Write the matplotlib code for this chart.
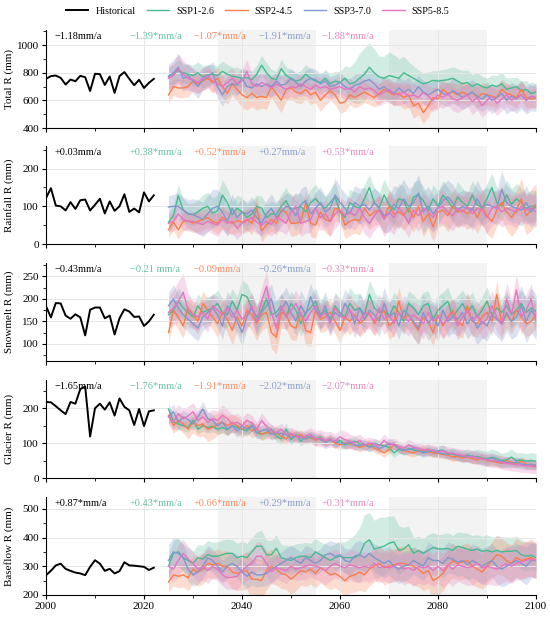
import numpy as np
import matplotlib
matplotlib.use('Agg')
import matplotlib.pyplot as plt
from matplotlib.ticker import MultipleLocator

plt.rcParams['font.family'] = ['Liberation Serif', 'DejaVu Serif']

# годы
hist_years = list(range(2000, 2023))
fut_years = list(range(2025, 2101))

scenarios = ['SSP1-2.6', 'SSP2-4.5', 'SSP3-7.0', 'SSP5-8.5']
line_colors = ['#45bc8f', '#fb7d48', '#8097cf', '#e474c2']
band_colors = ['#66c2a5', '#fc8d62', '#8da0cb', '#e78ac3']

# ---------- Total R ----------
total_hist = [756, 776, 780, 763, 715, 751, 739, 778, 768, 668, 793, 790, 712, 773, 654, 776, 805, 756, 710, 749, 690, 727, 756]
total_ssp1 = [775, 790, 815, 800, 790, 780, 800, 770, 785, 790,
              780, 810, 790, 775, 770, 760, 765, 750, 790, 855,
              800, 760, 750, 830, 780, 760, 740, 750, 790, 760,
              740, 730, 760, 720, 740, 730, 760, 720, 730, 760,
              790, 840, 800, 770, 760, 780, 770, 760, 800, 780,
              760, 740, 720, 730, 745, 740, 745, 750, 760, 740,
              720, 730, 700, 720, 700, 690, 710, 700, 720, 680,
              690, 700, 670, 680, 650, 660]
total_ssp2 = [640, 700, 690, 690, 700, 740, 720, 740, 760, 730,
              760, 700, 650, 720, 680, 640, 620, 650, 620, 630,
              620, 700, 650, 600, 680, 690, 660, 650, 680, 640,
              660, 600, 640, 670, 640, 580, 590, 640, 620, 640,
              660, 640, 620, 650, 680, 660, 640, 650, 620, 640,
              560, 580, 510, 560, 620, 610, 680, 650, 660, 640,
              660, 640, 660, 620, 650, 640, 630, 620, 680, 650,
              640, 620, 680, 620, 610, 620]
total_ssp3 = [770, 800, 840, 760, 780, 740, 700, 750, 770, 800,
              700, 640, 700, 720, 710, 760, 700, 690, 720, 700,
              720, 700, 740, 710, 720, 760, 730, 700, 740, 760,
              750, 720, 740, 700, 710, 730, 700, 680, 710, 720,
              740, 750, 720, 680, 700, 670, 650, 690, 660, 680,
              650, 700, 660, 640, 660, 680, 650, 640, 670, 650,
              620, 640, 660, 630, 610, 640, 600, 620, 650, 600,
              630, 610, 640, 600, 630, 620]
total_ssp5 = [760, 780, 830, 790, 760, 750, 730, 760, 780, 740,
              720, 700, 730, 760, 720, 740, 810, 720, 700, 730,
              710, 690, 720, 700, 680, 700, 690, 720, 700, 680,
              710, 690, 700, 680, 690, 700, 680, 690, 660, 700,
              680, 690, 670, 640, 660, 680, 650, 640, 660, 630,
              640, 620, 660, 630, 600, 640, 620, 650, 610, 600,
              620, 640, 590, 620, 560, 600, 630, 580, 610, 640,
              600, 620, 640, 600, 630, 620]
total_spread_ssp1 = [60, 70, 80, 70, 70, 75, 80, 80, 75, 70,
                     70, 75, 70, 65, 70, 65, 60, 60, 65, 70,
                     70, 65, 60, 70, 65, 60, 60, 65, 70, 65,
                     60, 60, 65, 70, 70, 80, 90, 120, 150, 180,
                     190, 180, 170, 150, 160, 170, 160, 140, 120, 100,
                     90, 80, 80, 75, 70, 75, 80, 80, 85, 90,
                     95, 90, 85, 80, 75, 70, 75, 80, 85, 80,
                     75, 70, 70, 65, 60, 60]
total_spread_ssp2 = [60, 65, 70, 70, 75, 70, 70, 65, 70, 75,
                     80, 75, 80, 85, 85, 90, 90, 95, 90, 85,
                     85, 80, 85, 90, 85, 80, 75, 75, 70, 70,
                     75, 80, 75, 70, 70, 75, 70, 70, 75, 80,
                     75, 70, 70, 75, 80, 75, 80, 80, 85, 90,
                     90, 85, 80, 80, 75, 80, 70, 75, 70, 75,
                     80, 75, 70, 75, 80, 75, 70, 75, 70, 75,
                     70, 75, 70, 70, 65, 70]
total_spread_ssp3 = [90, 95, 100, 95, 90, 85, 85, 80, 80, 80,
                     85, 80, 80, 75, 75, 80, 80, 75, 75, 80,
                     80, 75, 70, 70, 75, 70, 70, 75, 80, 80,
                     75, 75, 70, 70, 75, 75, 70, 75, 80, 80,
                     75, 70, 75, 80, 80, 85, 80, 80, 85, 85,
                     80, 80, 85, 85, 80, 80, 85, 85, 90, 90,
                     85, 85, 90, 90, 90, 95, 95, 90, 95, 100,
                     100, 105, 100, 100, 105, 100]
total_spread_ssp5 = [85, 95, 110, 100, 90, 85, 80, 80, 75, 75,
                     75, 80, 80, 75, 75, 80, 85, 80, 75, 75,
                     70, 70, 75, 75, 70, 70, 75, 75, 70, 70,
                     70, 75, 75, 70, 70, 75, 75, 70, 75, 75,
                     70, 75, 75, 80, 80, 80, 85, 80, 80, 85,
                     85, 80, 80, 85, 85, 80, 80, 85, 85, 90,
                     85, 85, 90, 90, 85, 85, 90, 90, 85, 85,
                     80, 85, 85, 80, 80, 80]

# ---------- Rainfall R ----------
rain_hist = [122, 148, 102, 100, 89, 111, 93, 116, 118, 89, 104, 120, 81, 113, 88, 100, 132, 85, 94, 84, 137, 113, 129]
rain_ssp1 = [58, 75, 128, 90, 80, 78, 85, 95, 100, 82,
             88, 130, 110, 78, 95, 85, 70, 80, 100, 95,
             70, 80, 78, 100, 115, 90, 95, 100, 85, 110,
             120, 105, 95, 110, 125, 85, 70, 110, 100, 95,
             120, 150, 110, 95, 130, 105, 90, 120, 115, 85,
             125, 130, 115, 90, 120, 100, 130, 115, 95, 125,
             110, 100, 130, 105, 95, 120, 150, 110, 100, 130,
             105, 120, 110, 95, 100, 102]
rain_ssp2 = [38, 58, 38, 60, 62, 55, 60, 65, 70, 60,
             55, 72, 60, 55, 62, 58, 65, 55, 95, 35,
             50, 65, 55, 90, 85, 55, 55, 60, 110, 55,
             50, 85, 65, 60, 95, 90, 50, 60, 65, 62,
             95, 75, 85, 90, 70, 100, 80, 85, 75, 95,
             70, 100, 60, 80, 45, 85, 90, 75, 100, 85,
             90, 80, 95, 70, 100, 75, 60, 90, 110, 85,
             70, 90, 120, 75, 90, 105]
rain_ssp3 = [98, 100, 100, 90, 80, 78, 72, 65, 80, 95,
             100, 85, 60, 95, 70, 85, 80, 90, 70, 55,
             80, 95, 70, 85, 100, 95, 75, 105, 115, 80,
             95, 110, 85, 95, 130, 110, 95, 80, 110, 100,
             105, 90, 110, 95, 75, 80, 105, 95, 120, 100,
             110, 135, 85, 100, 80, 95, 115, 125, 110, 90,
             100, 95, 90, 120, 95, 105, 100, 95, 145, 110,
             100, 95, 90, 110, 85, 100]
rain_ssp5 = [55, 60, 80, 65, 60, 60, 55, 52, 60, 55,
             50, 65, 55, 60, 42, 55, 62, 70, 58, 50,
             60, 52, 70, 65, 55, 85, 100, 55, 60, 65,
             95, 70, 80, 60, 80, 90, 75, 85, 75, 95,
             70, 55, 75, 90, 65, 85, 70, 95, 80, 55,
             90, 75, 95, 85, 70, 95, 100, 85, 75, 95,
             85, 100, 80, 95, 90, 70, 95, 100, 85, 95,
             90, 85, 100, 90, 95, 85]
rain_spread_ssp1 = [25, 28, 30, 30, 28, 30, 32, 35, 38, 40,
                    42, 40, 38, 35, 35, 38, 35, 32, 30, 32,
                    35, 32, 30, 32, 35, 35, 38, 35, 32, 35,
                    38, 35, 32, 35, 38, 35, 32, 35, 38, 40,
                    38, 35, 38, 40, 42, 40, 38, 40, 38, 35,
                    38, 40, 38, 35, 38, 40, 38, 35, 38, 40,
                    38, 35, 38, 40, 42, 40, 38, 40, 38, 40,
                    42, 40, 38, 40, 42, 40]
rain_spread_ssp2 = [20, 22, 25, 25, 22, 25, 28, 28, 25, 25,
                    28, 30, 28, 30, 32, 30, 28, 30, 32, 30,
                    28, 30, 32, 30, 32, 35, 32, 30, 32, 35,
                    35, 32, 35, 38, 35, 32, 35, 38, 35, 38,
                    40, 38, 35, 38, 40, 42, 40, 38, 40, 42,
                    40, 42, 40, 38, 40, 42, 40, 42, 45, 42,
                    40, 42, 45, 42, 45, 48, 45, 42, 45, 48,
                    50, 52, 55, 50, 55, 55]
rain_spread_ssp3 = [30, 32, 35, 35, 38, 42, 45, 45, 48, 50,
                    45, 42, 40, 38, 35, 35, 32, 35, 38, 35,
                    35, 38, 40, 38, 35, 38, 40, 42, 40, 38,
                    40, 42, 40, 42, 45, 42, 40, 42, 45, 48,
                    45, 42, 40, 42, 45, 48, 50, 55, 52, 48,
                    45, 50, 55, 52, 48, 45, 42, 45, 48, 45,
                    42, 45, 48, 50, 48, 45, 42, 45, 50, 45,
                    42, 40, 42, 45, 42, 40]
rain_spread_ssp5 = [22, 25, 28, 28, 25, 25, 28, 28, 25, 28,
                    30, 28, 30, 32, 30, 28, 30, 32, 30, 28,
                    30, 32, 35, 32, 30, 35, 38, 35, 32, 35,
                    38, 35, 38, 40, 38, 35, 38, 40, 38, 40,
                    42, 40, 38, 42, 45, 48, 45, 42, 40, 38,
                    40, 42, 40, 38, 40, 42, 45, 42, 40, 42,
                    40, 42, 45, 42, 40, 42, 45, 42, 40, 42,
                    40, 42, 40, 38, 40, 40]

# ---------- Snowmelt R ----------
snow_hist = [184, 159, 191, 190, 163, 156, 166, 159, 119, 176, 181, 181, 157, 163, 121, 157, 177, 172, 160, 161, 140, 150, 165]
snow_ssp1 = [165, 175, 195, 180, 170, 160, 185, 170, 175, 180,
             190, 170, 165, 195, 175, 210, 205, 180, 160, 175,
             200, 165, 170, 185, 160, 190, 175, 145, 170, 180,
             195, 165, 175, 155, 185, 170, 160, 190, 175, 180,
             165, 210, 180, 170, 175, 160, 185, 170, 150, 190,
             180, 165, 185, 190, 155, 175, 185, 195, 160, 175,
             190, 170, 185, 160, 175, 195, 165, 180, 170, 185,
             165, 175, 190, 170, 180, 172]
snow_ssp2 = [125, 175, 160, 140, 180, 165, 150, 190, 175, 160,
             145, 170, 155, 130, 160, 140, 175, 165, 145, 165,
             170, 125, 115, 170, 165, 140, 135, 170, 130, 125,
             175, 155, 160, 170, 150, 130, 160, 150, 165, 145,
             155, 170, 145, 160, 175, 140, 150, 195, 155, 165,
             145, 130, 160, 150, 125, 165, 140, 160, 175, 150,
             140, 185, 150, 145, 160, 170, 150, 210, 145, 165,
             150, 175, 160, 145, 150, 165]
snow_ssp3 = [185, 200, 180, 165, 155, 145, 135, 160, 170, 180,
             165, 140, 185, 170, 150, 125, 160, 180, 150, 170,
             185, 200, 160, 175, 195, 170, 150, 185, 165, 205,
             175, 160, 185, 150, 170, 160, 190, 175, 145, 180,
             155, 175, 165, 150, 190, 160, 170, 140, 175, 165,
             150, 135, 170, 145, 160, 140, 175, 150, 160, 155,
             170, 145, 160, 135, 150, 140, 165, 155, 145, 170,
             150, 160, 185, 150, 175, 160]
snow_ssp5 = [170, 180, 195, 215, 175, 165, 160, 170, 155, 185,
             175, 165, 180, 160, 175, 155, 165, 185, 150, 195,
             228, 170, 135, 185, 160, 175, 190, 165, 150, 170,
             185, 160, 170, 145, 180, 165, 155, 175, 160, 150,
             170, 165, 150, 180, 155, 165, 145, 170, 160, 150,
             165, 155, 145, 170, 150, 160, 145, 155, 170, 140,
             160, 175, 150, 165, 145, 155, 185, 160, 145, 200,
             165, 220, 160, 175, 200, 150]
snow_spread_ssp1 = [25, 28, 30, 28, 26, 25, 26, 28, 30, 28,
                    30, 32, 30, 28, 30, 32, 30, 28, 30, 28,
                    30, 28, 26, 28, 30, 28, 26, 28, 30, 28,
                    30, 32, 30, 28, 30, 32, 34, 36, 35, 32,
                    30, 32, 35, 32, 30, 28, 30, 32, 30, 28,
                    30, 32, 30, 28, 30, 32, 30, 32, 35, 32,
                    30, 32, 30, 28, 30, 32, 30, 28, 30, 32,
                    30, 28, 30, 32, 30, 30]
snow_spread_ssp2 = [22, 25, 28, 28, 26, 28, 30, 28, 26, 28,
                    30, 28, 30, 32, 30, 28, 32, 35, 38, 35,
                    32, 35, 38, 35, 32, 30, 28, 30, 32, 30,
                    28, 30, 32, 30, 28, 30, 28, 30, 32, 30,
                    28, 30, 28, 26, 28, 30, 32, 30, 28, 30,
                    32, 30, 28, 30, 32, 30, 28, 30, 28, 30,
                    28, 30, 32, 30, 28, 30, 32, 30, 28, 30,
                    28, 30, 32, 30, 28, 28]
snow_spread_ssp3 = [30, 32, 30, 28, 28, 30, 28, 30, 32, 30,
                    28, 30, 32, 30, 28, 30, 28, 30, 32, 30,
                    32, 34, 36, 34, 32, 30, 32, 34, 32, 30,
                    28, 30, 32, 30, 28, 30, 32, 30, 32, 34,
                    32, 30, 32, 34, 36, 34, 32, 30, 32, 34,
                    36, 38, 40, 38, 36, 34, 32, 34, 36, 38,
                    36, 34, 36, 38, 36, 34, 36, 38, 40, 42,
                    40, 42, 45, 48, 50, 50]
snow_spread_ssp5 = [35, 40, 45, 42, 38, 32, 30, 28, 30, 28,
                    30, 28, 26, 28, 30, 28, 30, 32, 30, 32,
                    35, 32, 30, 28, 30, 28, 30, 32, 30, 28,
                    30, 28, 26, 28, 30, 32, 34, 36, 34, 32,
                    34, 32, 30, 32, 34, 32, 30, 32, 34, 32,
                    30, 32, 34, 32, 30, 32, 34, 32, 30, 32,
                    34, 36, 34, 32, 34, 36, 34, 32, 34, 36,
                    34, 36, 38, 36, 34, 34]

# ---------- Glacier R ----------
glac_hist = [218, 217, 206, 194, 183, 218, 213, 255, 262, 119, 200, 213, 196, 217, 179, 228, 204, 194, 152, 198, 149, 191, 194]
glac_ssp1 = [198, 160, 155, 150, 145, 165, 140, 150, 145, 148,
             140, 145, 138, 150, 145, 140, 135, 150, 130, 126,
             130, 140, 120, 112, 140, 110, 125, 105, 120, 115,
             110, 118, 105, 112, 100, 108, 95, 100, 105, 98,
             95, 90, 100, 95, 92, 88, 72, 82, 78, 85,
             80, 78, 75, 82, 72, 78, 80, 70, 68, 65,
             62, 66, 60, 62, 58, 55, 60, 56, 50, 52,
             60, 50, 52, 48, 50, 48]
glac_ssp2 = [180, 150, 165, 155, 140, 160, 150, 155, 140, 145,
             155, 160, 150, 158, 150, 140, 150, 135, 140, 125,
             130, 128, 130, 120, 112, 125, 118, 125, 112, 118,
             108, 112, 105, 110, 100, 95, 100, 98, 95, 88,
             92, 98, 85, 80, 72, 82, 95, 85, 80, 75,
             72, 78, 82, 75, 72, 70, 68, 65, 60, 62,
             58, 60, 55, 52, 58, 50, 48, 45, 42, 50,
             45, 42, 48, 40, 35, 38]
glac_ssp3 = [175, 190, 160, 175, 168, 155, 175, 198, 170, 165,
             150, 160, 140, 150, 135, 148, 140, 150, 130, 135,
             140, 125, 130, 128, 125, 115, 120, 118, 112, 120,
             115, 110, 102, 108, 105, 100, 98, 102, 95, 92,
             98, 88, 92, 85, 90, 100, 95, 85, 80, 82,
             85, 78, 72, 75, 80, 72, 70, 68, 72, 65,
             62, 60, 64, 58, 55, 52, 58, 50, 48, 45,
             42, 46, 40, 38, 40, 35]
glac_ssp5 = [175, 160, 185, 170, 178, 190, 165, 175, 160, 170,
             165, 180, 170, 155, 160, 150, 165, 158, 140, 165,
             148, 135, 130, 140, 125, 128, 120, 115, 120, 125,
             112, 115, 108, 112, 105, 118, 110, 105, 100, 108,
             95, 100, 98, 92, 108, 95, 98, 90, 85, 95,
             88, 85, 80, 82, 78, 75, 78, 72, 70, 68,
             65, 62, 60, 58, 55, 52, 50, 48, 45, 42,
             40, 38, 36, 35, 34, 32]
glac_spread_ssp1 = [18, 18, 16, 15, 15, 16, 15, 15, 16, 15,
                    15, 16, 15, 14, 15, 16, 15, 14, 15, 16,
                    15, 14, 15, 16, 18, 16, 15, 14, 15, 16,
                    15, 14, 13, 14, 15, 14, 13, 14, 15, 14,
                    13, 14, 13, 12, 13, 14, 13, 12, 13, 14,
                    13, 12, 13, 14, 13, 14, 15, 14, 15, 16,
                    17, 18, 19, 20, 21, 22, 23, 22, 21, 22,
                    23, 22, 21, 22, 23, 22]
glac_spread_ssp2 = [22, 22, 24, 26, 28, 30, 32, 34, 35, 34,
                    32, 30, 28, 26, 25, 24, 22, 20, 18, 18,
                    17, 16, 16, 15, 15, 16, 15, 14, 15, 14,
                    14, 13, 14, 13, 14, 13, 14, 13, 12, 13,
                    12, 13, 12, 12, 13, 12, 12, 11, 12, 11,
                    12, 11, 12, 11, 12, 11, 12, 12, 13, 12,
                    13, 12, 13, 12, 13, 14, 13, 12, 13, 12,
                    13, 12, 13, 12, 13, 12]
glac_spread_ssp3 = [20, 22, 22, 20, 18, 18, 20, 22, 20, 18,
                    18, 20, 18, 17, 18, 17, 16, 17, 18, 17,
                    16, 17, 16, 15, 16, 15, 14, 15, 14, 15,
                    14, 13, 14, 13, 14, 13, 14, 13, 14, 13,
                    14, 13, 12, 13, 12, 13, 12, 13, 12, 13,
                    12, 13, 12, 13, 12, 13, 12, 13, 14, 13,
                    14, 13, 14, 15, 14, 15, 14, 15, 14, 15,
                    14, 15, 14, 15, 14, 14]
glac_spread_ssp5 = [22, 24, 26, 28, 28, 26, 28, 30, 28, 26,
                    28, 30, 28, 26, 25, 24, 22, 22, 20, 22,
                    20, 18, 18, 17, 18, 17, 18, 17, 18, 20,
                    22, 24, 24, 22, 20, 22, 24, 22, 20, 18,
                    18, 17, 16, 17, 18, 17, 16, 15, 16, 15,
                    16, 15, 16, 15, 16, 15, 16, 17, 18, 17,
                    18, 17, 18, 19, 18, 19, 20, 19, 20, 19,
                    20, 19, 20, 19, 20, 19]

# ---------- Baseflow R ----------
base_hist = [269, 284, 303, 309, 291, 284, 278, 275, 269, 298, 321, 309, 284, 291, 275, 283, 314, 303, 302, 300, 298, 287, 295]
base_ssp1 = [300, 345, 350, 330, 320, 310, 330, 325, 340, 335,
             335, 340, 345, 345, 330, 335, 330, 350, 370, 370,
             340, 340, 362, 330, 325, 320, 330, 335, 335, 330,
             350, 340, 330, 320, 330, 335, 330, 330, 330, 340,
             380, 392, 360, 365, 370, 380, 385, 355, 360, 375,
             345, 355, 345, 355, 365, 360, 360, 362, 355, 370,
             365, 360, 355, 360, 352, 355, 350, 355, 350, 352,
             352, 355, 340, 335, 338, 330]
base_ssp2 = [245, 270, 265, 270, 260, 290, 280, 290, 310, 305,
             310, 300, 300, 280, 275, 280, 285, 255, 255, 250,
             285, 300, 290, 275, 270, 255, 270, 285, 280, 290,
             275, 295, 285, 270, 275, 265, 250, 265, 270, 280,
             270, 290, 300, 310, 295, 300, 305, 310, 310, 305,
             300, 290, 275, 285, 250, 260, 275, 300, 320, 310,
             315, 320, 300, 290, 280, 300, 320, 340, 335, 320,
             310, 330, 320, 325, 330, 320]
base_ssp3 = [320, 350, 345, 330, 290, 270, 280, 300, 330, 320,
             300, 280, 300, 310, 300, 280, 265, 280, 270, 270,
             275, 290, 300, 310, 320, 330, 320, 310, 330, 320,
             310, 320, 340, 345, 335, 340, 320, 315, 335, 340,
             330, 345, 330, 320, 310, 320, 300, 290, 300, 305,
             320, 310, 300, 330, 320, 320, 310, 330, 325, 315,
             320, 305, 320, 310, 300, 310, 320, 300, 290, 300,
             310, 320, 310, 300, 320, 320]
base_ssp5 = [300, 290, 320, 345, 325, 310, 290, 300, 285, 300,
             290, 270, 260, 262, 265, 285, 300, 310, 335, 335,
             310, 280, 295, 290, 285, 300, 290, 295, 300, 305,
             300, 295, 285, 300, 310, 300, 295, 305, 300, 295,
             300, 295, 310, 295, 300, 295, 300, 310, 290, 295,
             285, 300, 295, 300, 285, 300, 285, 305, 290, 305,
             300, 295, 300, 310, 295, 300, 295, 290, 300, 310,
             300, 310, 315, 320, 325, 320]
base_spread_ssp1 = [40, 45, 50, 48, 45, 42, 45, 48, 50, 48,
                    50, 52, 50, 48, 50, 52, 50, 48, 50, 55,
                    52, 50, 48, 45, 48, 50, 48, 45, 48, 50,
                    48, 45, 48, 50, 48, 50, 55, 65, 80, 95,
                    100, 95, 100, 105, 100, 95, 90, 85, 75, 65,
                    55, 50, 52, 55, 52, 50, 52, 55, 52, 50,
                    52, 55, 52, 50, 52, 55, 52, 50, 52, 50,
                    48, 50, 52, 50, 48, 48]
base_spread_ssp2 = [35, 38, 40, 42, 45, 48, 50, 52, 50, 48,
                    50, 52, 55, 58, 60, 62, 65, 70, 72, 70,
                    65, 60, 55, 52, 50, 52, 55, 52, 50, 52,
                    50, 52, 55, 52, 50, 52, 55, 58, 60, 62,
                    60, 58, 55, 58, 60, 58, 55, 58, 60, 62,
                    65, 62, 60, 62, 65, 62, 60, 58, 60, 58,
                    60, 62, 65, 62, 60, 62, 65, 68, 65, 62,
                    65, 68, 65, 62, 65, 65]
base_spread_ssp3 = [55, 50, 48, 45, 42, 40, 42, 45, 42, 40,
                    42, 40, 38, 40, 42, 40, 42, 45, 42, 40,
                    42, 45, 42, 40, 42, 45, 42, 40, 42, 45,
                    42, 40, 42, 45, 48, 45, 42, 45, 48, 50,
                    48, 45, 48, 50, 52, 50, 48, 50, 52, 50,
                    48, 50, 52, 55, 52, 50, 52, 55, 52, 50,
                    52, 55, 58, 60, 62, 60, 58, 60, 62, 65,
                    62, 60, 62, 65, 62, 60]
base_spread_ssp5 = [40, 45, 55, 50, 45, 42, 45, 48, 45, 42,
                    40, 38, 40, 42, 45, 48, 50, 52, 50, 48,
                    45, 42, 40, 42, 45, 42, 40, 42, 45, 42,
                    45, 48, 50, 52, 50, 48, 50, 52, 55, 52,
                    50, 52, 55, 52, 50, 52, 55, 58, 55, 52,
                    55, 58, 60, 58, 55, 58, 60, 62, 60, 58,
                    60, 62, 65, 62, 60, 62, 60, 58, 60, 62,
                    60, 58, 60, 62, 60, 60]

# тренды
total_trends = ['\u22121.18mm/a', '\u22121.39*mm/a', '\u22121.07*mm/a', '\u22121.91*mm/a', '\u22121.88*mm/a']
rain_trends = ['+0.03mm/a', '+0.38*mm/a', '+0.52*mm/a', '+0.27mm/a', '+0.53*mm/a']
snow_trends = ['\u22120.43mm/a', '\u22120.21 mm/a', '\u22120.09mm/a', '\u22120.26*mm/a', '\u22120.33*mm/a']
glac_trends = ['\u22121.65mm/a', '\u22121.76*mm/a', '\u22121.91*mm/a', '\u22122.02*mm/a', '\u22122.07*mm/a']
base_trends = ['+0.87*mm/a', '+0.43*mm/a', '+0.66*mm/a', '+0.29*mm/a', '+0.31*mm/a']

panels = [
    ('Total R (mm)', total_hist, [total_ssp1, total_ssp2, total_ssp3, total_ssp5],
     [total_spread_ssp1, total_spread_ssp2, total_spread_ssp3, total_spread_ssp5],
     total_trends, (400, 1110), 200, 100),
    ('Rainfall R (mm)', rain_hist, [rain_ssp1, rain_ssp2, rain_ssp3, rain_ssp5],
     [rain_spread_ssp1, rain_spread_ssp2, rain_spread_ssp3, rain_spread_ssp5],
     rain_trends, (0, 260), 100, 50),
    ('Snowmelt R (mm)', snow_hist, [snow_ssp1, snow_ssp2, snow_ssp3, snow_ssp5],
     [snow_spread_ssp1, snow_spread_ssp2, snow_spread_ssp3, snow_spread_ssp5],
     snow_trends, (62, 280), 50, 25),
    ('Glacier R (mm)', glac_hist, [glac_ssp1, glac_ssp2, glac_ssp3, glac_ssp5],
     [glac_spread_ssp1, glac_spread_ssp2, glac_spread_ssp3, glac_spread_ssp5],
     glac_trends, (0, 281), 100, 50),
    ('Baseflow R (mm)', base_hist, [base_ssp1, base_ssp2, base_ssp3, base_ssp5],
     [base_spread_ssp1, base_spread_ssp2, base_spread_ssp3, base_spread_ssp5],
     base_trends, (200, 541), 100, 50),
]

fig = plt.figure(figsize=(5.5, 6.17), dpi=100)

ax_left = 46 / 550
ax_width = 490 / 550
ax_height = 98 / 617
tops = [30, 146, 263, 380, 497]
text_x = [2001.8, 2017.1, 2030.2, 2043.3, 2056.3]
text_colors = ['black'] + band_colors

fy = np.array(fut_years)
handles = []
for i, (label, hist, series, spreads, trends, ylim, major, minor) in enumerate(panels):
    ax = fig.add_axes([ax_left, 1 - (tops[i] + 98) / 617, ax_width, ax_height])

    # серые периоды
    ax.axvspan(2035, 2055, color='#f3f3f3', zorder=0, lw=0)
    ax.axvspan(2070, 2090, color='#f3f3f3', zorder=0, lw=0)
    ax.grid(True, which='major', color='#e6e6e6', lw=0.7, zorder=0.5)

    for s, sp, c in zip(series, spreads, band_colors):
        s = np.array(s)
        sp = np.array(sp)
        ax.fill_between(fy, s - sp, s + sp, color=c, alpha=0.3, lw=0, zorder=1)

    h, = ax.plot(hist_years, hist, color='black', lw=1.4, zorder=3, label='Historical')
    hs = [h]
    for s, c, name in zip(series, line_colors, scenarios):
        hh, = ax.plot(fy, s, color=c, lw=1.0, zorder=2, label=name)
        hs.append(hh)
    if i == 0:
        handles = hs

    for tx, t, c in zip(text_x, trends, text_colors):
        ax.text(tx, 0.93, t, color=c, fontsize=7.5, va='center', ha='left', zorder=4,
                transform=ax.get_xaxis_transform())

    ax.set_xlim(2000, 2100)
    ax.set_ylim(*ylim)
    ax.yaxis.set_major_locator(MultipleLocator(major))
    ax.yaxis.set_minor_locator(MultipleLocator(minor))
    ax.xaxis.set_major_locator(MultipleLocator(20))
    ax.xaxis.set_minor_locator(MultipleLocator(10))
    ax.spines['top'].set_visible(False)
    ax.spines['right'].set_visible(False)
    ax.tick_params(labelsize=8, length=3, pad=2)
    ax.tick_params(which='minor', length=2)
    ax.set_ylabel(label, fontsize=8)
    ax.yaxis.set_label_coords(-0.066, 0.5)
    if i < 4:
        ax.tick_params(axis='x', labelbottom=False)

fig.legend(handles=handles, loc='center left', bbox_to_anchor=(58 / 550, 1 - 11 / 617), ncol=5,
           frameon=False, fontsize=7.3, handlelength=2.2, columnspacing=1.1, handletextpad=0.7,
           borderpad=0.3)

plt.savefig('out.png', dpi=100)
